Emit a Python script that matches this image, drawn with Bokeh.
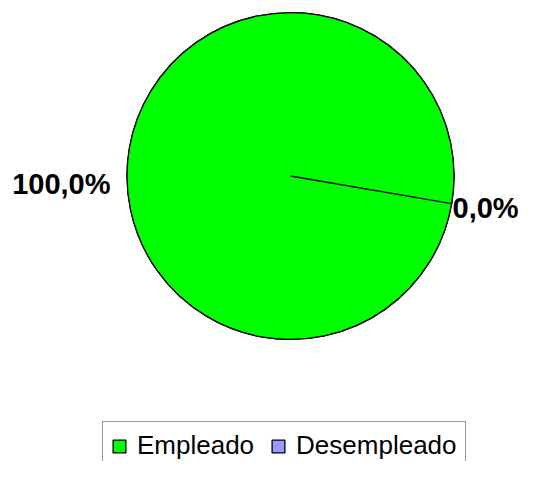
import math
from bokeh.plotting import figure
from bokeh.models import Legend, LegendItem, ColumnDataSource, Range1d
from bokeh.embed import file_html
from bokeh.resources import INLINE
from bokeh.core.properties import value

# ---- data ----
categories = ["Empleado", "Desempleado"]
percentages = [100.0, 0.0]
labels = ["100,0%", "0,0%"]
colors = ["#00FF00", "#9999FF"]

# ---- layout ----
W, H = 519, 461
CX, CY, R = 290.0, H - 175.5, 163.5
START_DEG = -9.7
LABEL_X = [110.0, 452.0]
LABEL_Y = [H - 183.0, H - 207.0]
LABEL_ALIGN = ["right", "left"]

p = figure(width=W, height=H, output_backend="svg", toolbar_location=None,
           x_range=Range1d(0, W), y_range=Range1d(0, H), min_border=0)
p.axis.visible = False
p.grid.visible = False
p.outline_line_color = None
p.background_fill_color = "white"

total = sum(percentages)
start = math.radians(START_DEG)
cum = 0.0
slices = []
for cat, v, col in zip(categories, percentages, colors):
    a0 = start - 2 * math.pi * cum / total
    cum += v
    a1 = start - 2 * math.pi * cum / total
    slices.append((cat, col, a1, a0))

# draw later slices first so the full slice ends on top
renderers = {}
for cat, col, s, e in reversed(slices):
    src = ColumnDataSource(dict(x=[CX], y=[CY], s=[s], e=[e]))
    renderers[cat] = p.wedge(x="x", y="y", radius=R, start_angle="s",
                             end_angle="e", direction="anticlock",
                             fill_color=col, line_color="black",
                             line_width=1.3, source=src)
items = [LegendItem(label=cat, renderers=[renderers[cat]]) for cat in categories]

for i, t in enumerate(labels):
    p.text(x=[LABEL_X[i]], y=[LABEL_Y[i]], text=[t],
           text_font=value("Liberation Sans"), text_font_style="bold",
           text_font_size="29px", text_align=LABEL_ALIGN[i],
           text_baseline="alphabetic", text_color="black")

legend = Legend(items=items, orientation="horizontal", location=(102, -9),
                glyph_width=16, glyph_height=16, label_standoff=10, spacing=16,
                padding=8, margin=0, label_height=26,
                label_text_font="Liberation Sans", label_text_font_size="26px",
                label_text_color="black", border_line_color="#333333",
                border_line_width=1, background_fill_color="white",
                background_fill_alpha=1.0)
p.add_layout(legend, "center")

open("out.html", "w").write(file_html(p, INLINE))
